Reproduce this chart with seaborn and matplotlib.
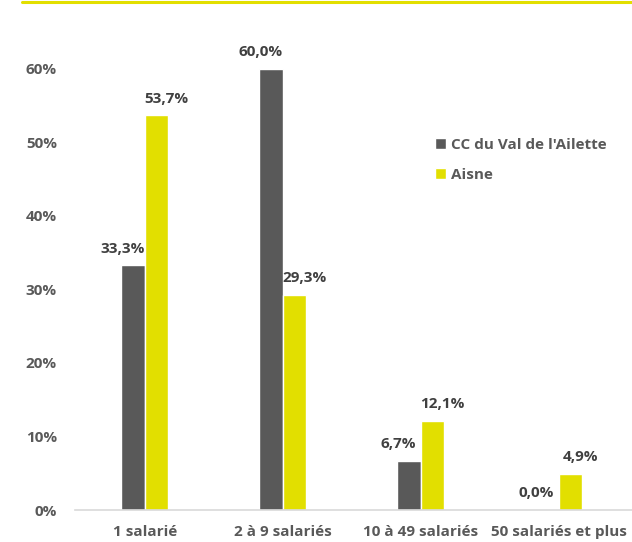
import pandas as pd
import matplotlib.pyplot as plt
import seaborn as sns
from matplotlib.lines import Line2D
from matplotlib.ticker import FuncFormatter

categories = ['1 salarié', '2 à 9 salariés', '10 à 49 salariés', '50 salariés et plus']
series = ["CC du Val de l'Ailette", 'Aisne']
val_ailette = [0.333, 0.600, 0.067, 0.000]
val_aisne = [0.537, 0.293, 0.121, 0.049]

dark = '#595959'
yellow = '#E2DF00'
text_col = '#595959'
label_col = '#404040'

df = pd.DataFrame({
    'cat': categories * 2,
    'zone': [series[0]] * 4 + [series[1]] * 4,
    'val': val_ailette + val_aisne,
})

sns.set_theme(style='white')
plt.rcParams['font.family'] = ['Open Sans', 'DejaVu Sans']
plt.rcParams['font.weight'] = 'bold'

fig = plt.figure(figsize=(6.32, 5.42), dpi=100)
ax = fig.add_axes([75 / 632, 32 / 542, 557 / 632, 480 / 542])

sns.barplot(data=df, x='cat', y='val', hue='zone', order=categories,
            hue_order=series, palette=[dark, yellow], width=0.34,
            saturation=1, ax=ax)

ax.set_xlim(-0.507, 3.53)
ax.set_ylim(0, 0.6 * 480 / 441)
ax.set_yticks([0, 0.1, 0.2, 0.3, 0.4, 0.5, 0.6])
ax.yaxis.set_major_formatter(FuncFormatter(lambda v, p: f'{v * 100:.0f}%'))
ax.set_xlabel('')
ax.set_ylabel('')
ax.tick_params(axis='both', length=0, labelsize=11, colors=text_col)
ax.tick_params(axis='x', pad=11)
ax.tick_params(axis='y', pad=13)
for lab in ax.get_xticklabels() + ax.get_yticklabels():
    lab.set_fontweight('bold')

for s in ['top', 'right', 'left']:
    ax.spines[s].set_visible(False)
ax.spines['bottom'].set_color('#D9D9D9')
ax.spines['bottom'].set_linewidth(1.2)

# data labels
for i, cont in enumerate(ax.containers):
    dx = -0.08 if i == 0 else 0.07
    for bar, v in zip(cont, [val_ailette, val_aisne][i]):
        x = bar.get_x() + bar.get_width() / 2 + dx
        ax.annotate(f'{v * 100:.1f}%'.replace('.', ','), (x, v),
                    xytext=(0, 7), textcoords='offset points',
                    ha='center', va='bottom', fontsize=11,
                    fontweight='bold', color=label_col)

leg = ax.legend(loc='upper left', bbox_to_anchor=(435 / 632, 1 - 138 / 542),
                bbox_transform=fig.transFigure, frameon=False,
                borderaxespad=0, borderpad=0,
                fontsize=11, handlelength=0.7, handleheight=0.7,
                handletextpad=0.35, labelspacing=1.05)
for t in leg.get_texts():
    t.set_color(text_col)
    t.set_fontweight('bold')

# yellow rule at the top
fig.add_artist(Line2D([22 / 632, 1], [1 - 1.5 / 542, 1 - 1.5 / 542],
                      color=yellow, linewidth=2.2, transform=fig.transFigure))

fig.savefig('out.png', dpi=100)
